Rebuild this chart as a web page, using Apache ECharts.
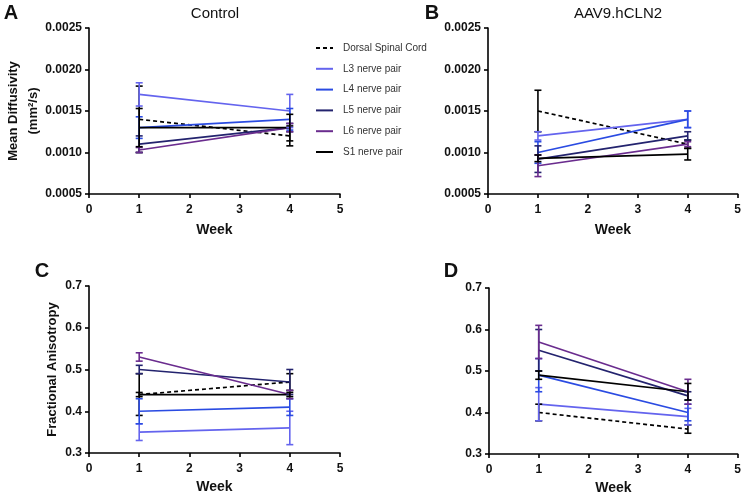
<!DOCTYPE html>
<html>
<head>
<meta charset="utf-8">
<script src="https://cdn.jsdelivr.net/npm/echarts@6/dist/echarts.min.js"></script>
<style>html,body{margin:0;padding:0;background:#fff;}#c{width:744px;height:496px;}</style>
</head>
<body>
<div id="c"></div>
<script>
// ---- data ----
const weeks = [1, 4];
const seriesNames = ['Dorsal Spinal Cord', 'L3 nerve pair', 'L4 nerve pair', 'L5 nerve pair', 'L6 nerve pair', 'S1 nerve pair'];
const seriesColors = ['#000000', '#6464EE', '#2A4BE2', '#23236E', '#6A2C8E', '#000000'];
const yTicksMD = [0.0005, 0.0010, 0.0015, 0.0020, 0.0025];
const yTicksFA = [0.3, 0.4, 0.5, 0.6, 0.7];
const xTicks = [0, 1, 2, 3, 4, 5];

// Mean Diffusivity, Control (week 1, week 4)
const mdControlMean = [[0.0014, 0.0012], [0.0017, 0.0015], [0.0013, 0.0014], [0.0011, 0.0013], [0.00103, 0.0013], [0.0013, 0.0013]];
const mdControlErr  = [[0.0004, 0.00012], [0.00014, 0.0002], [0.00013, 0.00013], [0.0001, 0.00005], [0.00003, 0.00005], [0.00023, 0.00016]];
// Mean Diffusivity, AAV9.hCLN2
const mdTreatMean = [[0.0015, 0.0011], [0.0012, 0.0014], [0.0010, 0.0014], [0.00092, 0.0012], [0.00084, 0.0011], [0.00093, 0.00098]];
const mdTreatErr  = [[0.00025, 0.00005], [0.00005, 0.0001], [0.00013, 0.0001], [0.00016, 0.00005], [0.00013, 0.00003], [0.00004, 0.00007]];
// Fractional Anisotropy, Control
const faControlMean = [[0.44, 0.47], [0.35, 0.36], [0.40, 0.41], [0.50, 0.47], [0.53, 0.44], [0.44, 0.44]];
const faControlErr  = [[0.05, 0.02], [0.02, 0.04], [0.03, 0.02], [0.01, 0.03], [0.01, 0.01], [0.005, 0.005]];
// Fractional Anisotropy, AAV9.hCLN2
const faTreatMean = [[0.40, 0.36], [0.42, 0.39], [0.49, 0.40], [0.55, 0.44], [0.57, 0.45], [0.49, 0.45]];
const faTreatErr  = [[0.02, 0.01], [0.04, 0.02], [0.04, 0.02], [0.05, 0.01], [0.04, 0.03], [0.01, 0.02]];

// ---- layout ----
const FONT = 'Liberation Sans, Arial, Helvetica, sans-serif';
const grids = [
  {left: 89, top: 28, width: 251, height: 166},
  {left: 488, top: 28, width: 251, height: 166},
  {left: 89, top: 286, width: 251, height: 167},
  {left: 489, top: 288, width: 250, height: 167}
];
const panels = [
  {mean: mdControlMean, err: mdControlErr, ticks: yTicksMD, dec: 4, name: 'Mean Diffusivity\n(mm²/s)', nameGap: 46},
  {mean: mdTreatMean, err: mdTreatErr, ticks: yTicksMD, dec: 4, name: '', nameGap: 40},
  {mean: faControlMean, err: faControlErr, ticks: yTicksFA, dec: 1, name: 'Fractional Anisotropy', nameGap: 27},
  {mean: faTreatMean, err: faTreatErr, ticks: yTicksFA, dec: 1, name: '', nameGap: 27}
];
const weekGaps = [29, 29, 27, 27];

const axisLine = {show: true, lineStyle: {color: '#000', width: 1.6}};
const axisTick = {show: true, length: 4, lineStyle: {color: '#000', width: 1.6}};
const labelStyle = {color: '#111', fontSize: 12, fontWeight: 'bold', fontFamily: FONT};

const xAxes = [], yAxes = [], series = [];
panels.forEach((p, i) => {
  xAxes.push({
    type: 'value', gridIndex: i, min: xTicks[0], max: xTicks[xTicks.length - 1], interval: 1,
    axisLine, axisTick, splitLine: {show: false},
    axisLabel: Object.assign({margin: 10}, labelStyle),
    name: 'Week', nameLocation: 'middle', nameGap: weekGaps[i], nameMoveOverlap: false,
    nameTextStyle: {color: '#111', fontSize: 14, fontWeight: 'bold', fontFamily: FONT}
  });
  const step = p.ticks[1] - p.ticks[0];
  yAxes.push({
    type: 'value', gridIndex: i, min: p.ticks[0], max: p.ticks[p.ticks.length - 1], interval: step,
    axisLine, axisTick, splitLine: {show: false},
    axisLabel: Object.assign({margin: 7, formatter: v => v.toFixed(p.dec)}, labelStyle),
    name: p.name, nameLocation: 'middle', nameGap: p.nameGap, nameRotate: 90, nameMoveOverlap: false,
    nameTextStyle: {color: '#111', fontSize: 13, fontWeight: 'bold', fontFamily: FONT, lineHeight: 20}
  });
  seriesNames.forEach((nm, k) => {
    series.push({
      type: 'line', name: nm, xAxisIndex: i, yAxisIndex: i,
      data: weeks.map((w, j) => [w, p.mean[k][j]]),
      symbol: 'none', showSymbol: false, silent: true, animation: false,
      color: seriesColors[k],
      lineStyle: {color: seriesColors[k], width: 1.7, type: k === 0 ? [4, 3] : 'solid'},
      z: 2
    });
  });
  const errData = [];
  seriesNames.forEach((nm, k) => {
    weeks.forEach((w, j) => {
      errData.push([w, p.mean[k][j] - p.err[k][j], p.mean[k][j] + p.err[k][j], k]);
    });
  });
  series.push({
    type: 'custom', name: 'err' + i, xAxisIndex: i, yAxisIndex: i, silent: true, animation: false,
    encode: {x: 0, y: [1, 2]}, z: 3,
    data: errData,
    renderItem: (params, api) => {
      const x = api.value(0), lo = api.value(1), hi = api.value(2);
      const c = seriesColors[api.value(3)];
      const a = api.coord([x, lo]), b = api.coord([x, hi]);
      const hw = 3.5;
      const st = {stroke: c, lineWidth: 1.6};
      return {type: 'group', children: [
        {type: 'line', shape: {x1: a[0], y1: a[1], x2: b[0], y2: b[1]}, style: st},
        {type: 'line', shape: {x1: a[0] - hw, y1: a[1], x2: a[0] + hw, y2: a[1]}, style: st},
        {type: 'line', shape: {x1: b[0] - hw, y1: b[1], x2: b[0] + hw, y2: b[1]}, style: st}
      ]};
    }
  });
});

const texts = [
  {x: 11, y: 13, text: 'A', fontSize: 20, fontWeight: 'bold'},
  {x: 432, y: 13, text: 'B', fontSize: 20, fontWeight: 'bold'},
  {x: 42, y: 271, text: 'C', fontSize: 20, fontWeight: 'bold'},
  {x: 451, y: 271, text: 'D', fontSize: 20, fontWeight: 'bold'},
  {x: 215, y: 14, text: 'Control', fontSize: 15, fontWeight: 'normal'},
  {x: 618, y: 14, text: 'AAV9.hCLN2', fontSize: 15, fontWeight: 'normal'}
];

const option = {
  backgroundColor: '#fff',
  animation: false,
  grid: grids,
  xAxis: xAxes,
  yAxis: yAxes,
  legend: {
    data: seriesNames,
    orient: 'vertical', left: 310, top: 37,
    itemWidth: 17, itemHeight: 12, itemGap: 8.8,
    selectedMode: false,
    itemStyle: {color: 'rgba(0,0,0,0)', borderColor: 'rgba(0,0,0,0)', borderWidth: 0, opacity: 0},
    textStyle: {color: '#333', fontSize: 10, fontFamily: FONT, padding: [0, 0, 0, 5], lineHeight: 12}
  },
  graphic: texts.map(t => ({
    type: 'text', x: t.x, y: t.y, silent: true,
    style: {text: t.text, fontSize: t.fontSize, fontWeight: t.fontWeight, fontFamily: FONT, fill: '#111', align: 'center', verticalAlign: 'middle'}
  })),
  series: series
};

const chart = echarts.init(document.getElementById('c'), null, {renderer: 'canvas'});
chart.setOption(option);
</script>
</body>
</html>
